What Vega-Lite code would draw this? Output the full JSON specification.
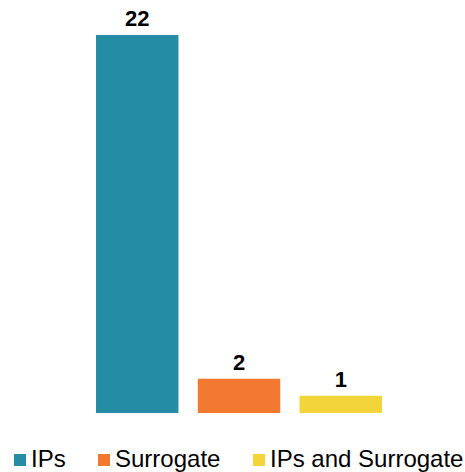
{
  "$schema": "https://vega.github.io/schema/vega-lite/v6.json",
  "width": 438,
  "height": 378,
  "autosize": {"type": "none"},
  "padding": {"left": 20, "top": 35, "right": 7, "bottom": 59},
  "background": "white",
  "config": {"view": {"stroke": null}, "font": "Liberation Sans"},
  "data": {"values": [
    {"category": "IPs", "count": 22},
    {"category": "Surrogate", "count": 2},
    {"category": "IPs and Surrogate", "count": 1}
  ]},
  "encoding": {
    "x": {"field": "category", "type": "nominal", "sort": null, "axis": null,
          "scale": {"paddingInner": 0.19, "paddingOuter": 0.747}},
    "y": {"field": "count", "type": "quantitative", "axis": null,
          "scale": {"domain": [0, 22], "nice": false}}
  },
  "layer": [
    {
      "mark": {"type": "bar", "cornerRadius": 0},
      "encoding": {
        "color": {"field": "category", "type": "nominal", "sort": null,
          "scale": {"domain": ["IPs", "Surrogate", "IPs and Surrogate"], "range": ["#248DA5", "#F47930", "#F2D538"]},
          "legend": {"title": null, "orient": "none", "legendX": -12, "legendY": 413, "direction": "horizontal", "padding": 0,
            "symbolType": "square", "symbolSize": 144, "symbolStrokeWidth": 0, "labelFontSize": 24,
            "labelFont": "Liberation Sans", "labelColor": "#000000", "labelOffset": -1, "columnPadding": 26, "labelLimit": 300}}
      }
    },
    {
      "mark": {"type": "text", "baseline": "bottom", "dy": -4, "fontSize": 22, "fontWeight": "bold", "font": "Liberation Sans", "color": "#000000"},
      "encoding": {"text": {"field": "count", "type": "quantitative"}}
    }
  ]
}
